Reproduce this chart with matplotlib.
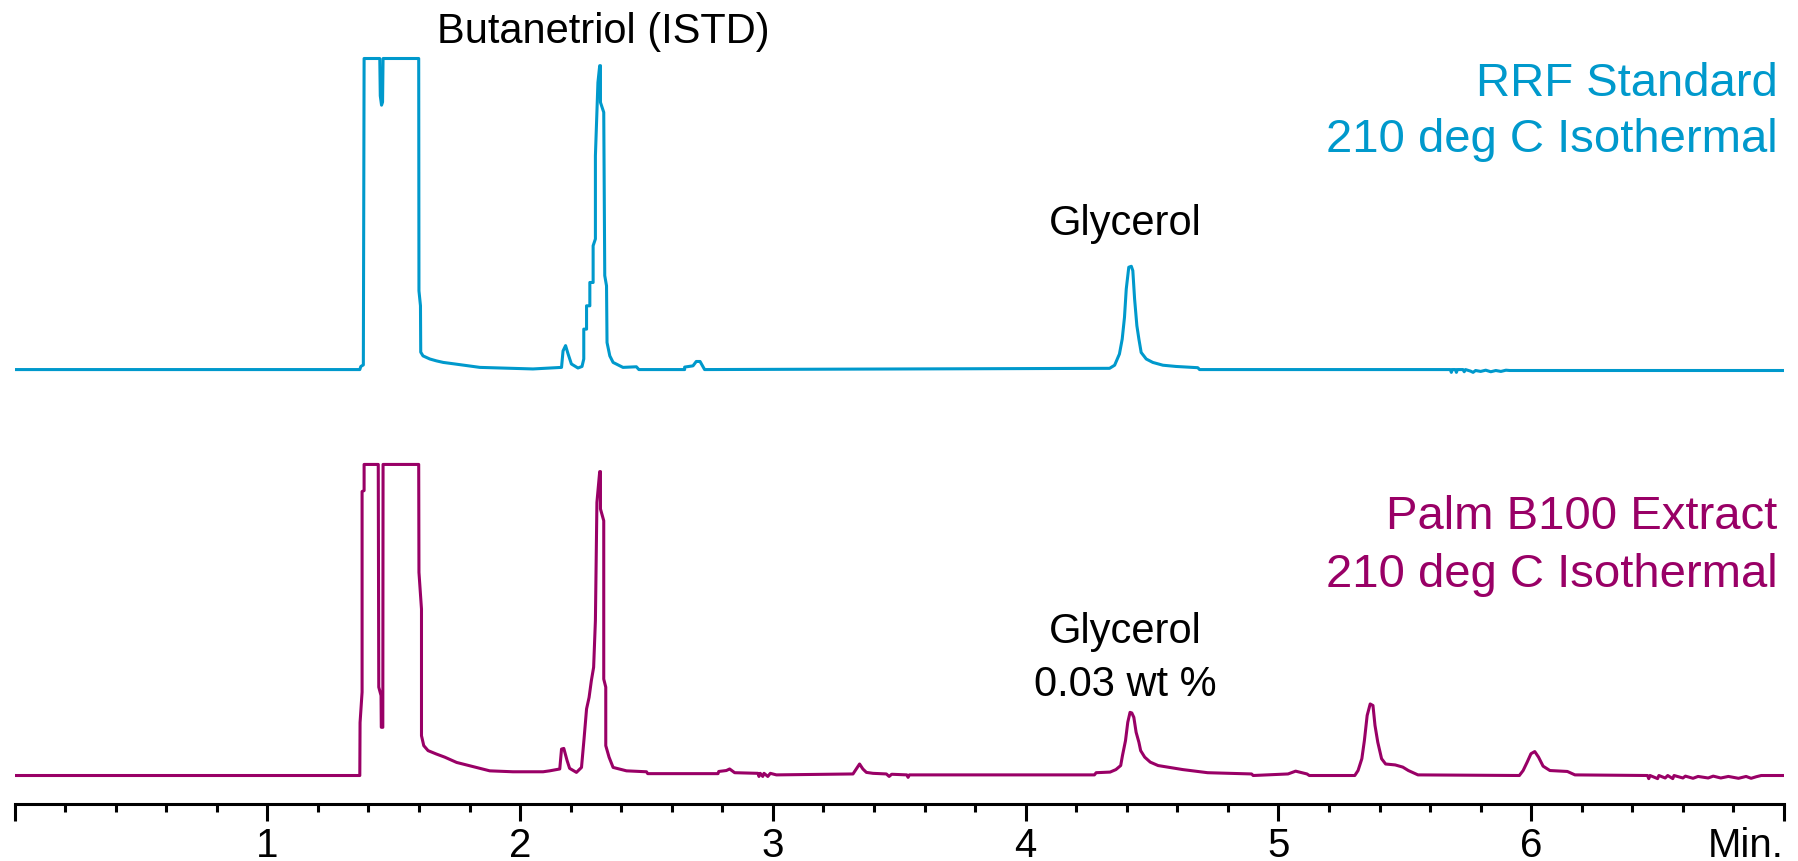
import matplotlib.pyplot as plt
from matplotlib import font_manager

# RRF standard chromatogram (time in min, detector signal, solvent peak clipped at 100)
rrf_time = [0.0, 1.366, 1.370, 1.380, 1.383, 1.445, 1.447, 1.452, 1.456, 1.458,
            1.599, 1.600, 1.606, 1.607, 1.616, 1.643, 1.669, 1.696, 1.742, 1.841,
            2.051, 2.164, 2.170, 2.180, 2.190, 2.203, 2.229, 2.245, 2.252, 2.252,
            2.263, 2.263, 2.276, 2.276, 2.289, 2.289, 2.298, 2.298, 2.308, 2.315,
            2.318, 2.318, 2.331, 2.335, 2.342, 2.344, 2.355, 2.368, 2.407, 2.46,
            2.47, 2.651, 2.651, 2.684, 2.697, 2.712, 2.730, 4.332, 4.352, 4.371,
            4.382, 4.391, 4.398, 4.408, 4.418, 4.424, 4.431, 4.440, 4.448, 4.457,
            4.477, 4.503, 4.543, 4.595, 4.681, 4.688, 5.680, 5.684, 5.688, 5.700,
            5.704, 5.708, 5.730, 5.735, 5.740, 5.760, 5.770, 5.780, 5.800, 5.820,
            5.840, 5.860, 5.880, 5.900, 5.915, 7.0]
rrf_signal = [0.0, 0.0, 1.0, 1.5, 100, 100, 88, 85, 86, 100,
              100, 25.3, 20.5, 5.6, 4.4, 3.4, 2.8, 2.3, 1.8, 0.7,
              0.2, 0.7, 6.0, 7.7, 5.0, 1.8, 0.5, 1.0, 3.4, 13.0,
              13.0, 20.5, 20.5, 28.0, 28.0, 39.8, 42.0, 68.7, 92.3, 97.7,
              97.7, 85.9, 82.7, 30.2, 26.9, 8.7, 4.4, 2.3, 0.7, 0.9,
              0.0, 0.0, 0.8, 1.2, 2.6, 2.6, 0.0, 0.4, 1.4, 5.0,
              9.8, 16.8, 25.9, 32.9, 33.2, 31.8, 22.7, 14.1, 9.8, 5.5,
              3.4, 2.3, 1.4, 1.0, 0.6, 0.0, 0.0, -0.9, 0.0, 0.0,
              -0.9, 0.0, 0.0, -0.7, 0.0, -0.5, -0.9, -0.3, -0.6, -0.2,
              -0.7, -0.3, -0.6, -0.2, -0.3, -0.3]

# Palm B100 extract chromatogram
palm_time = [0.0, 1.366, 1.367, 1.375, 1.375, 1.383, 1.383, 1.439, 1.441, 1.450,
             1.451, 1.457, 1.458, 1.599, 1.600, 1.610, 1.610, 1.619, 1.636, 1.669,
             1.702, 1.749, 1.788, 1.841, 1.880, 1.972, 2.091, 2.117, 2.157, 2.164,
             2.173, 2.186, 2.196, 2.223, 2.243, 2.253, 2.263, 2.273, 2.282, 2.291,
             2.298, 2.304, 2.315, 2.318, 2.318, 2.331, 2.331, 2.339, 2.339, 2.352,
             2.368, 2.421, 2.500, 2.505, 2.783, 2.786, 2.816, 2.829, 2.849, 2.941,
             2.945, 2.950, 2.960, 2.965, 2.980, 2.990, 3.014, 3.317, 3.330, 3.343,
             3.356, 3.370, 3.396, 3.449, 3.460, 3.470, 3.530, 3.535, 3.540, 4.272,
             4.279, 4.334, 4.357, 4.376, 4.383, 4.395, 4.404, 4.413, 4.420, 4.428,
             4.437, 4.448, 4.455, 4.471, 4.493, 4.524, 4.561, 4.622, 4.720, 4.894,
             4.900, 5.038, 5.068, 5.113, 5.122, 5.302, 5.315, 5.330, 5.340, 5.351,
             5.363, 5.374, 5.382, 5.393, 5.408, 5.424, 5.462, 5.492, 5.514, 5.552,
             5.953, 5.968, 5.984, 5.999, 6.014, 6.029, 6.047, 6.074, 6.143, 6.173,
             6.460, 6.465, 6.470, 6.500, 6.505, 6.530, 6.540, 6.560, 6.565, 6.600,
             6.610, 6.640, 6.660, 6.700, 6.720, 6.750, 6.780, 6.820, 6.850, 6.870,
             6.890, 6.910, 7.0]
palm_signal = [0.0, 0.0, 17.0, 26.8, 91.3, 91.6, 100, 100, 28.4, 25.7,
               15.5, 15.5, 100, 100, 65.3, 53.5, 12.8, 9.6, 8.0, 6.9,
               5.9, 4.2, 3.4, 2.3, 1.5, 1.2, 1.2, 1.5, 2.1, 8.5,
               8.7, 4.8, 2.3, 1.0, 2.6, 11.7, 21.4, 25.1, 30.5, 34.8,
               49.8, 87.8, 97.7, 97.7, 85.7, 81.9, 31.0, 28.4, 9.6, 5.9,
               2.6, 1.5, 1.2, 0.6, 0.6, 1.3, 1.6, 2.1, 0.9, 0.7,
               -0.3, 0.7, -0.3, 0.7, -0.3, 0.7, 0.2, 0.5, 2.1, 3.7,
               2.1, 1.0, 0.7, 0.5, -0.3, 0.4, 0.2, -0.6, 0.2, 0.2,
               0.9, 1.1, 1.9, 3.2, 6.4, 11.2, 17.1, 20.3, 20.1, 18.7,
               13.9, 10.7, 8.0, 5.9, 4.3, 3.2, 2.7, 1.9, 0.9, 0.5,
               0.0, 0.5, 1.4, 0.5, 0.0, 0.0, 1.6, 5.4, 11.2, 19.3,
               23.0, 22.5, 16.1, 10.7, 5.4, 3.7, 3.4, 2.7, 1.6, 0.2,
               0.0, 1.6, 4.3, 7.0, 7.7, 5.9, 3.0, 1.6, 1.3, 0.2,
               0.0, -1.0, 0.0, -1.0, 0.0, -0.8, 0.0, -1.0, 0.0, -0.8,
               -0.2, -0.9, -0.3, -0.8, -0.2, -0.8, -0.3, -0.9, -0.3, -0.9,
               -0.4, 0.0, 0.0]

major_ticks = [0, 1, 2, 3, 4, 5, 6, 7]
major_labels = ['', '1', '2', '3', '4', '5', '6', '']

blue = '#0099cc'
purple = '#990066'
offset = 130.5  # vertical shift of the upper trace

# condensed face for the time axis, if one is installed
installed = {f.name for f in font_manager.fontManager.ttflist}
narrow = [f for f in ['Liberation Sans Narrow', 'DejaVu Sans Condensed'] if f in installed]
axis_font = narrow + ['Liberation Sans']

fig = plt.figure(figsize=(17.99, 8.62), dpi=100)
ax = fig.add_axes([14.5 / 1799, 57 / 862, (1784 - 14.5) / 1799, (842 - 57) / 862])

ax.plot(rrf_time, [v + offset for v in rrf_signal], color=blue, lw=2.2)
ax.plot(palm_time, palm_signal, color=purple, lw=2.2)

ax.set_xlim(0, 7)
ax.set_ylim(-9.16, 243.2)

for s in ['left', 'right', 'top']:
    ax.spines[s].set_visible(False)
ax.spines['bottom'].set_linewidth(2.2)
ax.set_yticks([])
ax.set_xticks(major_ticks)
ax.set_xticklabels(major_labels)
ax.set_xticks([i * 0.2 for i in range(36) if i % 5 != 0], minor=True)
ax.tick_params(axis='x', which='major', direction='out', length=12, width=2.2, pad=4,
               labelsize=29)
ax.tick_params(axis='x', which='minor', direction='out', length=6, width=2.2)
for lbl in ax.get_xticklabels():
    lbl.set_family(axis_font)

ax.text(7.0, -26.0, 'Min.', ha='right', va='baseline', fontsize=29,
        family=axis_font, clip_on=False)

# peak and sample labels
font = 'Liberation Sans'
ax.text(2.33, 239.4, 'Butanetriol (ISTD)', ha='center', va='center', fontsize=30, family=font)
ax.text(4.395, 177.7, 'Glycerol', ha='center', va='center', fontsize=30, family=font)
ax.text(4.395, 46.5, 'Glycerol', ha='center', va='center', fontsize=30, family=font)
ax.text(4.395, 29.4, '0.03 wt %', ha='center', va='center', fontsize=30, family=font)

ax.text(6.975, 222.7, 'RRF Standard', ha='right', va='center', fontsize=34,
        color=blue, family=font)
ax.text(6.975, 204.7, '210 deg C Isothermal', ha='right', va='center', fontsize=34,
        color=blue, family=font)
ax.text(6.975, 83.4, 'Palm B100 Extract', ha='right', va='center', fontsize=34,
        color=purple, family=font)
ax.text(6.975, 64.8, '210 deg C Isothermal', ha='right', va='center', fontsize=34,
        color=purple, family=font)

plt.savefig('out.png', dpi=100)
